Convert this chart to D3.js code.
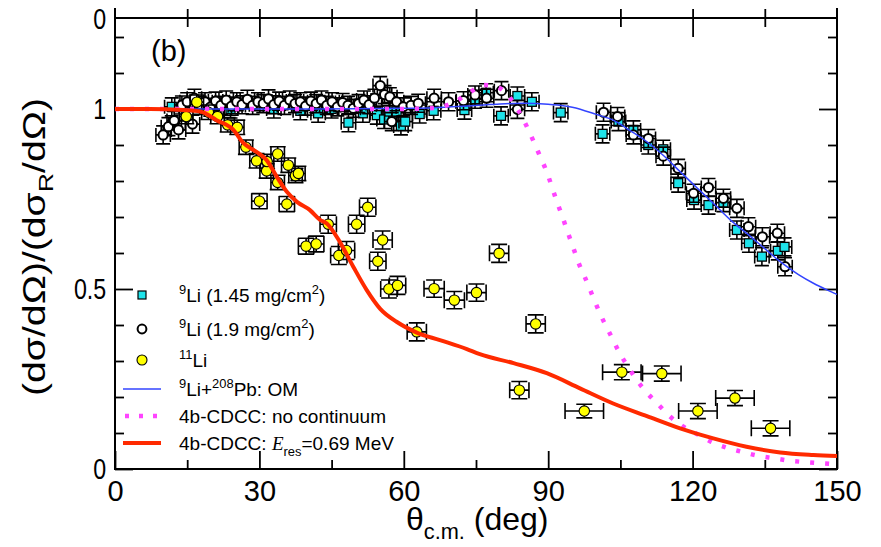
<!DOCTYPE html>
<html>
<head>
<meta charset="utf-8">
<script src="https://cdn.jsdelivr.net/npm/d3@7/dist/d3.min.js"></script>
<style>
  body { margin: 0; background: #fff; }
  svg { display: block; font-family: "Liberation Sans", Arial, sans-serif; }
</style>
</head>
<body>
<div id="chart"></div>
<script>
// 9Li, 1.45 mg/cm2 (cyan squares)
var li9aTheta = [11.8, 24.0, 33.0, 38.5, 42.2, 45.0, 48.5, 51.5, 54.4, 55.9, 57.0, 58.5, 59.4, 60.3, 63.3, 66.2,
  72.6, 74.8, 77.1, 80.2, 83.6, 86.6, 92.6, 101.3, 104.6, 107.7, 110.8, 113.9, 117.0, 120.3, 123.3, 126.4,
  129.2, 131.7, 134.4, 137.7, 139.1];
var li9aValue = [1.006, 1.0, 1.0, 0.995, 0.988, 1.0, 0.962, 0.988, 0.983, 0.971, 0.993, 0.993, 0.953, 0.965, 0.986, 0.995,
  0.997, 1.027, 1.045, 0.981, 1.036, 1.020, 0.990, 0.931, 0.965, 0.942, 0.900, 0.888, 0.794, 0.747, 0.733, 0.740,
  0.664, 0.627, 0.590, 0.606, 0.617];

// 9Li, 1.9 mg/cm2 (open circles)
var li9bTheta = [10.0, 11.1, 12.3, 13.2, 13.9, 15.0, 16.1, 16.5, 17.6, 18.7, 19.8, 20.9, 22.0, 23.1, 24.2, 25.3,
  26.4, 27.5, 28.6, 29.7, 30.8, 31.9, 33.0, 34.1, 35.2, 36.3, 37.4, 38.5, 39.6, 40.7, 41.8, 42.9, 44.0, 45.1,
  46.2, 47.3, 48.4, 49.5, 50.6, 51.7, 52.8, 53.9, 55.1, 56.0, 57.1, 57.5, 58.5, 59.9, 61.5, 63.0, 66.3, 69.3,
  72.4, 74.8, 77.2, 80.3, 83.6, 101.5, 104.4, 107.7, 110.8, 113.9, 117.0, 120.2, 123.3, 126.4, 129.2, 131.6,
  134.5, 137.6, 139.2];
var li9bValue = [0.928, 0.951, 0.968, 0.942, 1.011, 1.020, 0.958, 1.030, 1.010, 1.020, 1.005, 1.022, 1.010, 1.025, 1.008, 1.020,
  1.012, 1.027, 1.010, 1.020, 1.015, 1.028, 1.012, 1.022, 1.010, 1.025, 1.015, 1.020, 1.008, 1.022, 1.015, 1.025, 1.010, 1.020,
  1.006, 1.018, 1.010, 1.002, 1.015, 1.025, 1.012, 1.030, 1.065, 1.040, 1.034, 0.965, 1.020, 1.006, 1.010, 1.016, 1.030, 1.020,
  1.023, 1.039, 1.030, 1.051, 0.999, 0.991, 0.979, 0.928, 0.918, 0.869, 0.835, 0.766, 0.782, 0.752, 0.724, 0.673,
  0.645, 0.655, 0.562];

// 11Li (yellow circles) with errors
var li11Theta = [14.8, 17.0, 19.4, 21.3, 23.4, 25.4, 27.2, 29.4, 30.0, 31.5, 31.6, 33.8, 33.8, 35.7, 36.0, 37.5, 38.1,
  39.7, 41.8, 44.3, 46.5, 48.1, 50.2, 52.5, 54.6, 55.6, 56.9, 58.7, 62.7, 66.3, 70.5, 75.1, 79.8, 84.0, 87.4,
  97.5, 105.3, 113.6, 121.1, 128.8, 136.2];
var li11Value = [0.979, 1.019, 0.991, 0.979, 0.956, 0.949, 0.894, 0.856, 0.744, 0.828, 0.854, 0.875, 0.796, 0.736, 0.844, 0.815, 0.821,
  0.619, 0.625, 0.680, 0.593, 0.607, 0.680, 0.727, 0.577, 0.636, 0.500, 0.510, 0.381, 0.501, 0.469, 0.490, 0.599, 0.219, 0.403,
  0.161, 0.269, 0.265, 0.161, 0.197, 0.113];
var li11ThetaErr = [1.4, 1.4, 1.4, 1.4, 1.4, 1.4, 1.4, 1.4, 1.6, 1.4, 1.4, 1.4, 1.4, 1.6, 1.4, 1.4, 1.4,
  1.6, 1.6, 1.7, 1.7, 1.7, 1.7, 1.7, 1.7, 2.0, 1.7, 1.7, 2.0, 2.1, 2.1, 2.0, 2.0, 2.0, 2.0,
  4.0, 4.0, 4.0, 4.0, 4.0, 4.0];
var li11ValueErr = [0.02, 0.02, 0.02, 0.02, 0.02, 0.02, 0.02, 0.02, 0.021, 0.02, 0.02, 0.02, 0.02, 0.021, 0.02, 0.02, 0.02,
  0.022, 0.022, 0.025, 0.025, 0.025, 0.025, 0.025, 0.025, 0.025, 0.025, 0.025, 0.025, 0.024, 0.024, 0.024, 0.025, 0.024, 0.025,
  0.019, 0.021, 0.021, 0.021, 0.021, 0.021];

// 9Li error bars (same for both thicknesses)
var li9ThetaErr = 1.5;
var li9ValueErr = 0.025;

// 9Li + 208Pb optical model
var omTheta = [0, 10, 20, 30, 40, 50, 60, 65, 70, 75, 80, 85, 90, 95, 100, 103.5, 107, 110.5, 114, 117.4, 121, 124.3,
  128, 131.2, 135, 138.2, 142, 145.1, 148, 150];
var omValue = [1, 1, 1, 1, 1, 1.001, 1.002, 1.003, 1.006, 1.010, 1.014, 1.016, 1.013, 1.005, 0.985, 0.969, 0.94, 0.909,
  0.87, 0.826, 0.78, 0.738, 0.69, 0.655, 0.612, 0.576, 0.54, 0.516, 0.497, 0.485];

// 4b-CDCC, no continuum
var ncTheta = [0, 20, 40, 60, 65, 67.5, 70.6, 73.6, 76.5, 79.6, 82.1, 85.5, 86.9, 88.3, 89.5, 91.8, 93.0, 94.1, 95.2,
  96.3, 97.7, 99.0, 101.0, 103.2, 104.8, 106.5, 108.4, 110.5, 112.8, 115.2, 117.9, 121.1, 123.8, 126.9, 130.2,
  133.5, 136.8, 140.2, 143.6, 146.8, 150];
var ncValue = [1, 1, 1, 1.0, 1.002, 1.005, 1.02, 1.045, 1.067, 1.06, 1.03, 0.953, 0.912, 0.869, 0.832, 0.743, 0.699, 0.656, 0.615,
  0.573, 0.53, 0.488, 0.425, 0.366, 0.323, 0.286, 0.247, 0.212, 0.18, 0.147, 0.119, 0.096, 0.076, 0.06, 0.048,
  0.037, 0.03, 0.023, 0.019, 0.016, 0.013];

// 4b-CDCC, Eres = 0.69 MeV
var resTheta = [0, 7.3, 14.2, 17.7, 21.1, 24.6, 26.7, 29.4, 31.5, 33.6, 35.7, 37.8, 40.5, 42.6, 44.0, 46.7, 49.5, 52.3,
  55.1, 58.5, 62.7, 67.5, 73.1, 75.8, 82.8, 89.7, 96.6, 103.5, 110.5, 117.4, 124.3, 131.2, 138.2, 145.1, 150];
var resValue = [1, 1, 0.997, 0.993, 0.969, 0.942, 0.905, 0.881, 0.858, 0.812, 0.77, 0.742, 0.719, 0.692, 0.682, 0.631, 0.562, 0.497,
  0.445, 0.409, 0.379, 0.358, 0.333, 0.319, 0.294, 0.266, 0.224, 0.182, 0.147, 0.113, 0.085, 0.062, 0.046, 0.039, 0.036];

var xMajor = [0, 30, 60, 90, 120, 150];
var xMinor = [15, 45, 75, 105, 135];
var xTickLabels = ['0', '30', '60', '90', '120', '150'];
var yMajor = [0, 0.5, 1];
var yMinor = [0.1, 0.2, 0.3, 0.4, 0.6, 0.7, 0.8, 0.9, 1.1, 1.2];
var yLabelValues = [0, 0.5, 1, 1.25];
var yTickLabels = ['0', '0.5', '1', '0'];

var width = 881;
var height = 547;
var plotL = 115, plotR = 837, plotT = 19, plotB = 469;

var x = d3.scaleLinear().domain([0, 150]).range([plotL, plotR]);
var y = d3.scaleLinear().domain([0, 1.25]).range([plotB, plotT]);

var svg = d3.select('#chart').append('svg')
  .attr('width', width)
  .attr('height', height);

function cleanAxis(g) {
  g.select('.domain').remove();
  g.selectAll('line').attr('stroke', '#000').attr('stroke-width', 1.8);
}

// Bottom axis, ticks pointing in.
svg.append('g')
  .attr('transform', 'translate(0,' + plotB + ')')
  .call(d3.axisBottom(x).tickValues(xMinor).tickSize(-9).tickFormat(''))
  .call(cleanAxis);
var xAxis = svg.append('g')
  .attr('transform', 'translate(0,' + plotB + ')')
  .call(d3.axisBottom(x).tickValues(xMajor).tickSize(-18).tickPadding(11)
    .tickFormat(function(d, i) { return xTickLabels[i]; }))
  .call(cleanAxis);
xAxis.selectAll('text')
  .attr('fill', '#000')
  .style('font-size', '29px');

// Top ticks cross the frame (the panel above shares this edge).
svg.append('g')
  .attr('transform', 'translate(0,9)')
  .call(d3.axisBottom(x).tickValues(xMinor).tickSize(18).tickFormat(''))
  .call(cleanAxis);
svg.append('g')
  .attr('transform', 'translate(0,9)')
  .call(d3.axisBottom(x).tickValues(xMajor.slice(1, -1)).tickSize(28).tickFormat(''))
  .call(cleanAxis);

// Left axis.
svg.append('g')
  .attr('transform', 'translate(' + plotL + ',0)')
  .call(d3.axisRight(y).tickValues(yMinor).tickSize(9).tickFormat(''))
  .call(cleanAxis);
svg.append('g')
  .attr('transform', 'translate(' + plotL + ',0)')
  .call(d3.axisRight(y).tickValues(yMajor).tickSize(18).tickFormat(''))
  .call(cleanAxis);
var yAxis = svg.append('g')
  .attr('transform', 'translate(' + plotL + ',0)')
  .call(d3.axisLeft(y).tickValues(yLabelValues).tickSize(0).tickPadding(11)
    .tickFormat(function(d, i) { return yTickLabels[i]; }))
  .call(cleanAxis);
// The y tick labels are set in a narrower face than the x ones.
yAxis.selectAll('text')
  .attr('fill', '#000')
  .attr('transform', 'scale(0.8,1)')
  .style('font-size', '29px');

// Right axis.
svg.append('g')
  .attr('transform', 'translate(' + plotR + ',0)')
  .call(d3.axisLeft(y).tickValues(yMinor).tickSize(9).tickFormat(''))
  .call(cleanAxis);
svg.append('g')
  .attr('transform', 'translate(' + plotR + ',0)')
  .call(d3.axisLeft(y).tickValues(yMajor).tickSize(18).tickFormat(''))
  .call(cleanAxis);

// Frame.
svg.append('rect')
  .attr('x', plotL).attr('y', plotT - 1)
  .attr('width', plotR - plotL).attr('height', plotB - plotT + 1)
  .attr('fill', 'none').attr('stroke', '#000').attr('stroke-width', 2);
svg.append('line').attr('x1', plotL).attr('x2', plotL).attr('y1', 8).attr('y2', plotT)
  .attr('stroke', '#000').attr('stroke-width', 2);
svg.append('line').attr('x1', plotR).attr('x2', plotR).attr('y1', 8).attr('y2', plotT)
  .attr('stroke', '#000').attr('stroke-width', 2);

// Error bars: horizontal and vertical bars, each with caps.
function errorBars(g, pts, cap) {
  var eb = g.append('g').attr('stroke', '#000').attr('stroke-width', 1.6).attr('fill', 'none');
  pts.forEach(function(p) {
    var x0 = x(p.t - p.dt), x1 = x(p.t + p.dt), xc = x(p.t);
    var y0 = y(p.v - p.dv), y1 = y(p.v + p.dv), yc = y(p.v);
    eb.append('path').attr('d',
      'M' + x0 + ',' + yc + 'H' + x1 +
      'M' + x0 + ',' + (yc - cap) + 'V' + (yc + cap) +
      'M' + x1 + ',' + (yc - cap) + 'V' + (yc + cap) +
      'M' + xc + ',' + y0 + 'V' + y1 +
      'M' + (xc - cap) + ',' + y0 + 'H' + (xc + cap) +
      'M' + (xc - cap) + ',' + y1 + 'H' + (xc + cap));
  });
}

var li9aPts = li9aTheta.map(function(t, i) { return {t: t, v: li9aValue[i], dt: li9ThetaErr, dv: li9ValueErr}; });
var li9bPts = li9bTheta.map(function(t, i) { return {t: t, v: li9bValue[i], dt: li9ThetaErr, dv: li9ValueErr}; });
var li11Pts = li11Theta.map(function(t, i) {
  return {t: t, v: li11Value[i], dt: li11ThetaErr[i], dv: li11ValueErr[i]};
});

var data = svg.append('g');

var gA = data.append('g');
errorBars(gA, li9aPts, 7);
gA.selectAll('rect').data(li9aPts).enter().append('rect')
  .attr('x', function(d) { return x(d.t) - 4.5; })
  .attr('y', function(d) { return y(d.v) - 4.5; })
  .attr('width', 9).attr('height', 9)
  .attr('fill', '#1ee3ea').attr('stroke', '#000').attr('stroke-width', 1.3);

var gB = data.append('g');
errorBars(gB, li9bPts, 7);
gB.selectAll('circle').data(li9bPts).enter().append('circle')
  .attr('cx', function(d) { return x(d.t); })
  .attr('cy', function(d) { return y(d.v); })
  .attr('r', 4.6)
  .attr('fill', '#fff').attr('stroke', '#000').attr('stroke-width', 2);

var gC = data.append('g');
errorBars(gC, li11Pts, 8);
gC.selectAll('circle').data(li11Pts).enter().append('circle')
  .attr('cx', function(d) { return x(d.t); })
  .attr('cy', function(d) { return y(d.v); })
  .attr('r', 5.2)
  .attr('fill', '#ffff00').attr('stroke', '#000').attr('stroke-width', 1.1);

// Curves.
var line = d3.line()
  .x(function(d) { return x(d[0]); })
  .y(function(d) { return y(d[1]); })
  .curve(d3.curveMonotoneX);

function pairs(t, v) { return t.map(function(tt, i) { return [tt, v[i]]; }); }

svg.append('path').datum(pairs(omTheta, omValue))
  .attr('d', line).attr('fill', 'none')
  .attr('stroke', '#3344ff').attr('stroke-width', 1.5);
svg.append('path').datum(pairs(ncTheta, ncValue))
  .attr('d', line).attr('fill', 'none')
  .attr('stroke', '#ff44ff').attr('stroke-width', 4.5).attr('stroke-dasharray', '4,11');
svg.append('path').datum(pairs(resTheta, resValue))
  .attr('d', line).attr('fill', 'none')
  .attr('stroke', '#ff2a00').attr('stroke-width', 4);

// Panel tag.
svg.append('text').attr('x', 151).attr('y', 61)
  .style('font-size', '29px').text('(b)');

// Legend.
var leg = svg.append('g').style('font-size', '19px');
var legX = 142, legTextX = 179;
var legRows = [295, 329, 360, 389, 416, 443];

leg.append('rect').attr('x', legX - 4).attr('y', legRows[0] - 4).attr('width', 8).attr('height', 8)
  .attr('fill', '#1ee3ea').attr('stroke', '#000').attr('stroke-width', 1.2);
leg.append('circle').attr('cx', legX).attr('cy', legRows[1]).attr('r', 4.4)
  .attr('fill', '#fff').attr('stroke', '#000').attr('stroke-width', 2);
leg.append('circle').attr('cx', legX).attr('cy', legRows[2]).attr('r', 5)
  .attr('fill', '#ffff00').attr('stroke', '#000').attr('stroke-width', 1.1);
leg.append('line').attr('x1', 123).attr('x2', 161).attr('y1', legRows[3]).attr('y2', legRows[3])
  .attr('stroke', '#3344ff').attr('stroke-width', 1.5);
leg.append('line').attr('x1', 125).attr('x2', 161).attr('y1', legRows[4]).attr('y2', legRows[4])
  .attr('stroke', '#ff44ff').attr('stroke-width', 4.5).attr('stroke-dasharray', '4,10');
leg.append('line').attr('x1', 123).attr('x2', 161).attr('y1', legRows[5]).attr('y2', legRows[5])
  .attr('stroke', '#ff2a00').attr('stroke-width', 4);

// Each label is a list of [text, kind] pieces: n normal, sup, sub, it.
var legLabels = [
  [['9', 'sup'], ['Li (1.45 mg/cm', 'n'], ['2', 'sup'], [')', 'n']],
  [['9', 'sup'], ['Li (1.9 mg/cm', 'n'], ['2', 'sup'], [')', 'n']],
  [['11', 'sup'], ['Li', 'n']],
  [['9', 'sup'], ['Li+', 'n'], ['208', 'sup'], ['Pb: OM', 'n']],
  [['4b-CDCC: no continuum', 'n']],
  [['4b-CDCC: ', 'n'], ['E', 'it'], ['res', 'sub'], ['=0.69 MeV', 'n']]
];

function richText(sel, pieces, up, down) {
  var shift = 0;
  pieces.forEach(function(p) {
    var ts = sel.append('tspan').text(p[0]);
    var target = 0;
    if (p[1] === 'sup') { target = -(up || 8); ts.style('font-size', '0.68em'); }
    if (p[1] === 'sub') { target = down || 6; ts.style('font-size', '0.68em'); }
    if (p[1] === 'it') { ts.style('font-style', 'italic').style('font-family', '"Liberation Serif", serif'); }
    ts.attr('dy', target - shift);
    shift = target;
  });
}

legLabels.forEach(function(pieces, i) {
  var t = leg.append('text').attr('x', legTextX).attr('y', legRows[i] + 7);
  richText(t, pieces);
});

// Axis titles.
var xTitle = svg.append('text')
  .attr('x', 406).attr('y', 530)
  .style('font-size', '32px');
richText(xTitle, [['\u03b8', 'n'], ['c.m.', 'sub'], [' (deg)', 'n']], 0, 9);

var yTitle = svg.append('text')
  .attr('transform', 'translate(45,247) rotate(-90)')
  .attr('text-anchor', 'middle')
  .attr('textLength', 298)
  .attr('lengthAdjust', 'spacingAndGlyphs')
  .style('font-size', '31px');
richText(yTitle, [['(d\u03c3/d\u03a9)/(d\u03c3', 'n'], ['R', 'sub'], ['/d\u03a9)', 'n']], 0, 8);
</script>
</body>
</html>
